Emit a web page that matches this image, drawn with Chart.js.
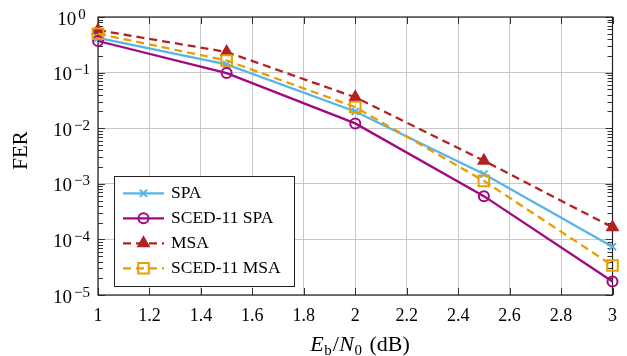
<!DOCTYPE html>
<html><head><meta charset="utf-8">
<script src="https://cdn.jsdelivr.net/npm/chart.js@4/dist/chart.umd.min.js"></script>
<style>html,body{margin:0;padding:0;background:#fff;}</style>
</head><body>
<canvas id="c" width="627" height="356"></canvas>
<script>
// ---- data ----
const ebn0 = [1, 1.5, 2, 2.5, 3];
const ferSPA     = [0.42, 0.14, 0.020, 0.00150, 7.4e-5];
const ferScedSPA = [0.37, 0.098, 0.0122, 0.00060, 1.75e-5];
const ferMSA     = [0.58, 0.235, 0.036, 0.0026, 1.65e-4];
const ferScedMSA = [0.50, 0.165, 0.024, 0.00113, 3.4e-5];
const seriesNames = ['SPA', 'SCED-11 SPA', 'MSA', 'SCED-11 MSA'];
const xTickValues = [1, 1.2, 1.4, 1.6, 1.8, 2, 2.2, 2.4, 2.6, 2.8, 3];
const xTickLabels = ['1', '1.2', '1.4', '1.6', '1.8', '2', '2.2', '2.4', '2.6', '2.8', '3'];
const yDecadeExps = [-5, -4, -3, -2, -1, 0];
const yTitle = 'FER';

const SERIF = '"Liberation Serif", "DejaVu Serif", serif';
const pts = arr => ebn0.map((x, i) => ({x: x, y: arr[i]}));

function mkSet(label, data, color, style, dash, radius, fill, order) {
  return {
    label, data: pts(data), borderColor: color, backgroundColor: color,
    borderWidth: 2.3, borderDash: dash, pointStyle: style, pointRadius: radius,
    pointBorderWidth: 2, pointBackgroundColor: fill ? color : 'rgba(0,0,0,0)',
    pointBorderColor: color, tension: 0, clip: false, order
  };
}

const datasets = [
  mkSet(seriesNames[0], ferSPA, '#56B4E9', 'crossRot', [], 5, false, 4),
  mkSet(seriesNames[1], ferScedSPA, '#A3077F', 'circle', [], 5, false, 3),
  mkSet(seriesNames[2], ferMSA, '#B22222', 'triangle', [8, 5], 6, true, 2),
  mkSet(seriesNames[3], ferScedMSA, '#E69F00', 'rect', [8, 5], 7.5, false, 1)
];

const decor = {
  id: 'decor',
  beforeDatasetsDraw(chart) {
    const {ctx, chartArea: a, scales: {x, y}} = chart;
    ctx.save();
    ctx.strokeStyle = '#333'; ctx.lineWidth = 1;
    ctx.beginPath();
    xTickValues.forEach(v => {
      const px = Math.round(x.getPixelForValue(v)) + 0.5;
      ctx.moveTo(px, a.bottom); ctx.lineTo(px, a.bottom - 7);
      ctx.moveTo(px, a.top); ctx.lineTo(px, a.top + 7);
    });
    yDecadeExps.forEach(e => {
      const py = Math.round(y.getPixelForValue(Math.pow(10, e))) + 0.5;
      ctx.moveTo(a.left, py); ctx.lineTo(a.left + 7, py);
      ctx.moveTo(a.right, py); ctx.lineTo(a.right - 7, py);
      if (e < 0) {
        for (let m = 2; m <= 9; m++) {
          const pm = Math.round(y.getPixelForValue(m * Math.pow(10, e))) + 0.5;
          ctx.moveTo(a.left, pm); ctx.lineTo(a.left + 5, pm);
          ctx.moveTo(a.right, pm); ctx.lineTo(a.right - 5, pm);
        }
      }
    });
    ctx.stroke();
    ctx.strokeStyle = '#222'; ctx.lineWidth = 1.2;
    ctx.strokeRect(a.left, a.top, a.right - a.left, a.bottom - a.top);
    ctx.restore();
  },
  afterDraw(chart) {
    const {ctx, scales: {y}} = chart;
    ctx.save();
    ctx.fillStyle = '#000';
    ctx.textBaseline = 'alphabetic';
    ctx.textAlign = 'left';
    // y tick labels 10^e
    yDecadeExps.forEach(e => {
      const py = y.getPixelForValue(Math.pow(10, e));
      const base = '10';
      const sup = e === 0 ? '0' : '\u2212' + (-e);
      ctx.font = '19px ' + SERIF;
      const wb = ctx.measureText(base).width;
      ctx.font = '15px ' + SERIF;
      const ws = ctx.measureText(sup).width;
      const gap = 2;
      const start = 71.5 - (wb + gap + ws) / 2;
      ctx.font = '19px ' + SERIF;
      ctx.fillText(base, start, py + 7.5);
      ctx.font = '15px ' + SERIF;
      ctx.fillText(sup, start + wb + gap, py + 1.5);
    });
    // y title
    ctx.save();
    ctx.translate(27, 150.5);
    ctx.rotate(-Math.PI / 2);
    ctx.textAlign = 'center';
    ctx.font = '21px ' + SERIF;
    ctx.fillText(yTitle, 0, 0);
    ctx.restore();
    // x title: E_b/N_0 (dB)
    const parts = [
      {t: 'E', f: 'italic 22px ', dy: 0},
      {t: 'b', f: '15px ', dy: 4, pre: 0.5},
      {t: '/', f: '22px ', dy: 0, pre: 1},
      {t: 'N', f: 'italic 22px ', dy: 0, pre: 0.5},
      {t: '0', f: '15px ', dy: 4, pre: 0.5},
      {t: ' (dB)', f: '22px ', dy: 0, pre: 2}
    ];
    let total = 0;
    parts.forEach(p => { ctx.font = p.f + SERIF; p.w = ctx.measureText(p.t).width; total += p.w + (p.pre || 0); });
    let cx = 360 - total / 2;
    parts.forEach(p => {
      cx += (p.pre || 0);
      ctx.font = p.f + SERIF;
      ctx.fillText(p.t, cx, 351 + p.dy);
      cx += p.w;
    });
    // legend
    const L = {x: 114.5, y: 176.5, w: 180, h: 110};
    ctx.fillStyle = '#fff';
    ctx.fillRect(L.x, L.y, L.w, L.h);
    ctx.strokeStyle = '#222'; ctx.lineWidth = 1;
    ctx.strokeRect(L.x, L.y, L.w, L.h);
    chart.data.datasets.forEach((ds, i) => {
      const ly = 193.3 + i * 25;
      ctx.save();
      ctx.strokeStyle = ds.borderColor; ctx.lineWidth = ds.borderWidth;
      ctx.setLineDash(ds.borderDash);
      ctx.beginPath(); ctx.moveTo(123, ly); ctx.lineTo(164, ly); ctx.stroke();
      ctx.setLineDash([]);
      ctx.fillStyle = ds.pointBackgroundColor; ctx.strokeStyle = ds.pointBorderColor;
      ctx.lineWidth = ds.pointBorderWidth;
      Chart.helpers.drawPoint(ctx, {pointStyle: ds.pointStyle, radius: ds.pointRadius, borderWidth: ds.pointBorderWidth, rotation: 0}, 143.5, ly);
      ctx.restore();
      ctx.fillStyle = '#000';
      ctx.font = '17.5px ' + SERIF;
      ctx.textBaseline = 'middle';
      ctx.fillText(ds.label, 171, ly + 0.5);
    });
    ctx.restore();
  }
};

new Chart(document.getElementById('c'), {
  type: 'line',
  data: {datasets},
  options: {
    responsive: false, animation: false, devicePixelRatio: 1,
    layout: {padding: {left: 0, top: 17, right: 5.5, bottom: 0}},
    plugins: {legend: {display: false}, tooltip: {enabled: false}},
    scales: {
      x: {
        type: 'linear', min: 1, max: 3,
        afterBuildTicks: s => { s.ticks = xTickValues.map(v => ({value: v})); },
        afterFit: s => { s.height = 61; },
        grid: {color: '#c8c8c8', lineWidth: 1, drawTicks: false},
        border: {display: false},
        ticks: {
          padding: 10, color: '#000', font: {family: SERIF, size: 18},
          maxRotation: 0, autoSkip: false,
          callback: (v, i) => xTickLabels[i]
        }
      },
      y: {
        type: 'logarithmic', min: 1e-5, max: 1,
        afterBuildTicks: s => { s.ticks = yDecadeExps.map(e => ({value: Math.pow(10, e), major: true})); },
        afterFit: s => { s.width = 98; },
        grid: {color: '#c8c8c8', lineWidth: 1, drawTicks: false},
        border: {display: false},
        ticks: {display: false}
      }
    }
  },
  plugins: [decor]
});
</script>
</body></html>
